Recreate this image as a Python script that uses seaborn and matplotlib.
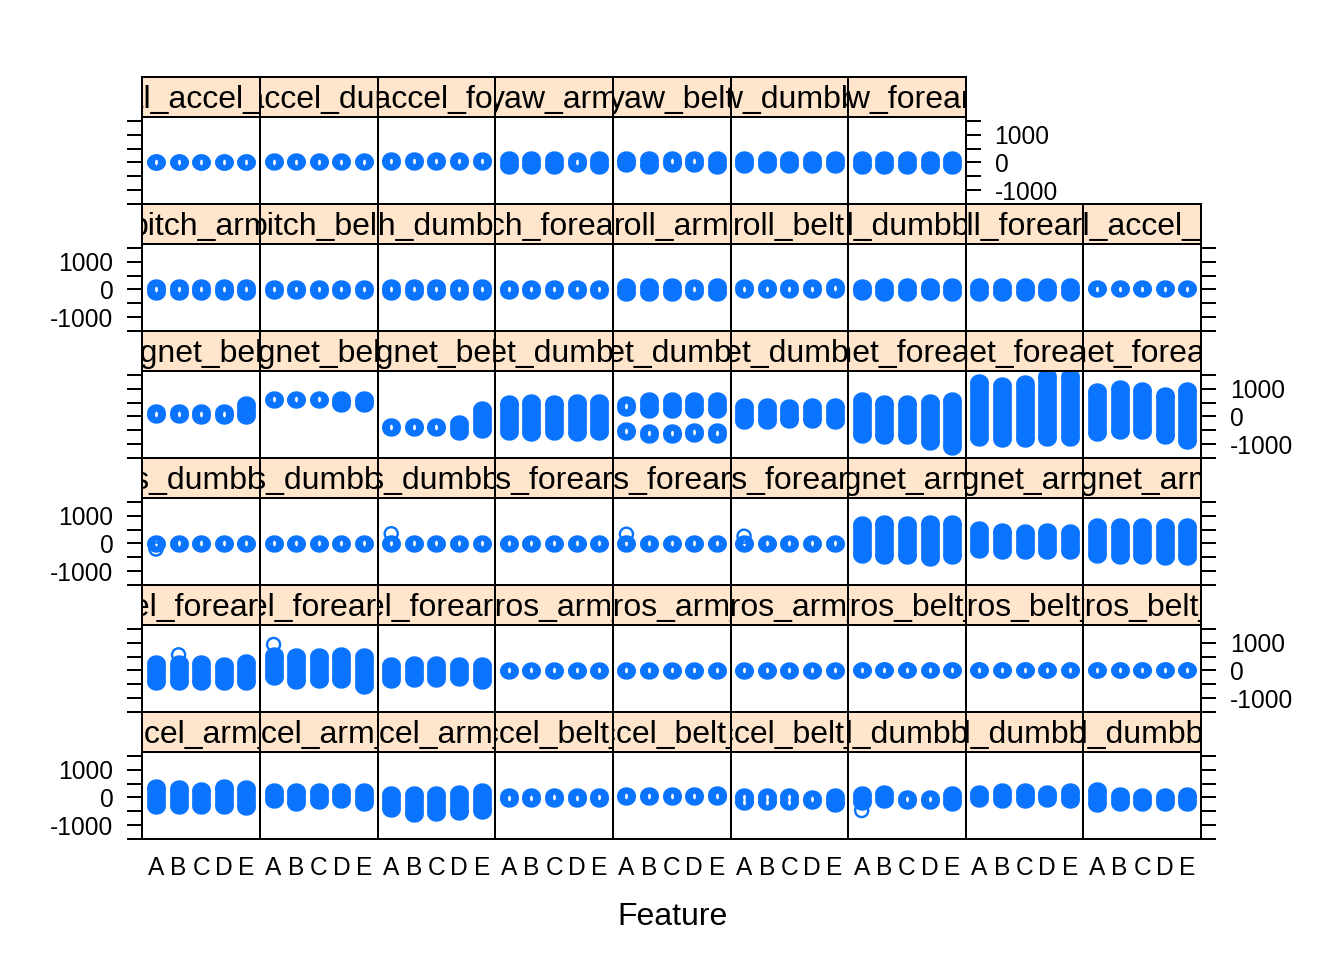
import numpy as np
import pandas as pd
import matplotlib
matplotlib.use("Agg")
import matplotlib.pyplot as plt
import seaborn as sns

# ---------------- data ----------------
classes = ["A", "B", "C", "D", "E"]

belt_features = ["roll_belt", "pitch_belt", "yaw_belt", "total_accel_belt",
                 "gyros_belt_x", "gyros_belt_y", "gyros_belt_z",
                 "accel_belt_x", "accel_belt_y", "accel_belt_z",
                 "magnet_belt_x", "magnet_belt_y", "magnet_belt_z"]
belt_low = [[-20, -20, -20, -20, -10], [-50, -50, -50, -50, -50],
            [-46, -141, -46, -46, -141], [0, 0, 0, 0, 0],
            [-1, -1, -1, -1, -1], [-1, -1, -1, -1, -1], [-1, -1, -1, -1, -1],
            [-50, -60, -50, -60, -60], [10, 10, 10, 10, 0],
            [15, 15, 15, -120, -220],
            [40, 35, 30, 25, 0], [580, 580, 585, 430, 450],
            [-400, -400, -400, -540, -495]]
belt_high = [[85, 85, 85, 85, 120], [60, 60, 60, 60, 60],
             [141, 120, 120, 120, 120], [28, 28, 28, 28, 28],
             [1, 1, 1, 1, 1], [1, 1, 1, 1, 1], [1, 1, 1, 1, 1],
             [40, 50, 50, 50, 60], [90, 90, 90, 90, 110],
             [35, 35, 35, -20, 50],
             [170, 170, 160, 160, 430], [640, 640, 640, 640, 640],
             [-330, -330, -330, -233, 261]]

arm_features = ["roll_arm", "pitch_arm", "yaw_arm", "total_accel_arm",
                "gyros_arm_x", "gyros_arm_y", "gyros_arm_z",
                "accel_arm_x", "accel_arm_y", "accel_arm_z",
                "magnet_arm_x", "magnet_arm_y", "magnet_arm_z"]
arm_low = [[-141, -141, -141, -80, -141], [-80, -80, -80, -80, -80],
           [-141, -141, -141, -46, -141], [0, 0, 0, 0, 0],
           [-6, -6, -6, -6, -6], [-3, -3, -3, -3, -3], [-2, -2, -2, -2, -2],
           [-293, -293, -293, -318, -353], [-106, -198, -141, -106, -198],
           [-410, -576, -553, -530, -495],
           [-420, -460, -460, -530, -460], [-220, -280, -280, -260, -280],
           [-400, -460, -460, -500, -500]]
arm_high = [[141, 141, 120, 80, 141], [80, 80, 80, 80, 80],
            [141, 141, 120, 85, 120], [60, 60, 60, 60, 60],
            [5, 5, 5, 5, 5], [3, 3, 3, 3, 3], [3, 3, 3, 3, 3],
            [367, 339, 279, 367, 339], [226, 247, 247, 226, 247],
            [131, 106, 106, 166, 226],
            [700, 730, 700, 730, 720], [520, 440, 420, 430, 420],
            [640, 610, 610, 640, 610]]

dumbbell_features = ["roll_dumbbell", "pitch_dumbbell", "yaw_dumbbell",
                     "total_accel_dumbbell", "gyros_dumbbell_x",
                     "gyros_dumbbell_y", "gyros_dumbbell_z",
                     "accel_dumbbell_x", "accel_dumbbell_y", "accel_dumbbell_z",
                     "magnet_dumbbell_x", "magnet_dumbbell_y",
                     "magnet_dumbbell_z"]
dumbbell_low = [[-106, -141, -120, -106, -120], [-80, -80, -80, -80, -80],
                [-106, -106, -106, -106, -106], [0, 0, 0, 0, 0],
                [-3, -3, -3, -3, -3], [-3, -3, -3, -3, -3], [-3, -3, -3, -3, -3],
                [-163, -106, -120, -120, -187], [-46, -106, -106, -46, -106],
                [-223, -187, -187, -187, -187],
                [-541, -576, -541, -588, -541], [307, 247, 247, 247, 247],
                [-163, -163, -130, -130, -150]]
dumbbell_high = [[85, 120, 110, 120, 110], [80, 80, 80, 80, 80],
                 [106, 106, 106, 106, 106], [50, 50, 50, 50, 50],
                 [3, 3, 3, 3, 3], [3, 3, 3, 3, 3], [3, 3, 3, 3, 3],
                 [120, 166, -20, -20, 141], [166, 237, 237, 166, 237],
                 [261, 85, 50, 50, 85],
                 [495, 519, 495, 519, 519], [438, 590, 590, 590, 590],
                 [378, 378, 340, 378, 378]]

forearm_features = ["roll_forearm", "pitch_forearm", "yaw_forearm",
                    "total_accel_forearm", "gyros_forearm_x",
                    "gyros_forearm_y", "gyros_forearm_z",
                    "accel_forearm_x", "accel_forearm_y", "accel_forearm_z",
                    "magnet_forearm_x", "magnet_forearm_y", "magnet_forearm_z"]
forearm_low = [[-141, -141, -141, -141, -141], [-40, -40, -40, -40, -40],
               [-141, -141, -141, -141, -141], [0, 0, 0, 0, 0],
               [-3, -3, -3, -3, -3], [-3, -3, -3, -3, -3], [-3, -3, -3, -3, -3],
               [-420, -430, -420, -420, -420], [-230, -380, -350, -350, -540],
               [-340, -300, -300, -280, -380],
               [-647, -707, -710, -919, -1095], [-763, -799, -799, -763, -763],
               [-587, -530, -530, -707, -883]]
forearm_high = [[141, 141, 141, 141, 141], [40, 40, 40, 40, 40],
                [141, 141, 141, 141, 141], [100, 100, 100, 100, 100],
                [3, 3, 3, 3, 3], [3, 3, 3, 3, 3], [3, 3, 3, 3, 3],
                [260, 250, 250, 200, 290], [550, 520, 520, 560, 520],
                [200, 220, 220, 180, 180],
                [601, 484, 484, 519, 601], [1251, 1131, 1191, 1450, 1450],
                [898, 1014, 951, 756, 951]]

# second value clusters (bimodal features)
extra_feature = ["accel_belt_z", "accel_belt_z", "accel_belt_z",
                 "magnet_dumbbell_y", "magnet_dumbbell_y", "magnet_dumbbell_y",
                 "magnet_dumbbell_y", "magnet_dumbbell_y"]
extra_class = ["A", "B", "C", "A", "B", "C", "D", "E"]
extra_low = [-165, -165, -165, -540, -650, -650, -620, -650]
extra_high = [-145, -145, -145, -480, -540, -540, -520, -520]

# isolated points
out_feature = ["gyros_dumbbell_x", "gyros_dumbbell_z", "gyros_forearm_y",
               "gyros_forearm_z", "accel_forearm_x", "accel_forearm_y",
               "accel_dumbbell_x"]
out_class = ["A", "A", "A", "A", "B", "A", "A"]
out_value = [-200, 350, 330, 260, 560, 930, -470]

# ---------------- tidy tables ----------------
rows = []
for names, lows, highs in [(belt_features, belt_low, belt_high),
                           (arm_features, arm_low, arm_high),
                           (dumbbell_features, dumbbell_low, dumbbell_high),
                           (forearm_features, forearm_low, forearm_high)]:
    for f, lo_row, hi_row in zip(names, lows, highs):
        for c, lo, hi in zip(classes, lo_row, hi_row):
            rows.append((f, c, lo, hi))
for f, c, lo, hi in zip(extra_feature, extra_class, extra_low, extra_high):
    rows.append((f, c, lo, hi))
seg = pd.DataFrame(rows, columns=["feature", "classe", "low", "high"])
cls_pos = {c: i + 1 for i, c in enumerate(classes)}
seg["pos"] = seg["classe"].map(cls_pos)
seg["mid"] = (seg["low"] + seg["high"]) / 2
outl = pd.DataFrame({"feature": out_feature, "classe": out_class,
                     "value": out_value})
outl["pos"] = outl["classe"].map(cls_pos)

features = sorted(belt_features + arm_features + dumbbell_features +
                  forearm_features)

# ---------------- style ----------------
sns.set_theme(style="white")
plt.rcParams["font.family"] = ["Liberation Sans", "DejaVu Sans"]
plt.rcParams["path.simplify"] = False
blue = "#0a74ff"
strip_bg = "#ffe5cc"
lw_frame = 0.75

W, H = 1344, 960
fig = plt.figure(figsize=(7, 5), dpi=192)
left0, colw = 142.4, 117.62
bot0, rowh, panh, striph = 839.3, 127.0, 87.6, 39.4
ncol = 9

theta = np.linspace(0, 2 * np.pi, 40)
end_marker = list(zip(np.cos(theta), 0.88 * np.sin(theta)))
hole_marker = list(zip(0.5 * np.cos(theta), np.sin(theta)))
cap_pt = 7.0  # capsule width in points

yt = [-1500, -1000, -500, 0, 500, 1000, 1500]
ytl = ["" if v % 1000 else str(v) for v in yt]

nfeat = len(features)
for i, f in enumerate(features):
    r, c = divmod(i, ncol)
    nrow_items = min(ncol, nfeat - r * ncol)
    x0 = (left0 + c * colw) / W
    yb = (H - (bot0 - r * rowh)) / H
    ax = fig.add_axes([x0, yb, colw / W, panh / H])
    sax = fig.add_axes([x0, yb + panh / H, colw / W, striph / H])

    sub = seg[seg["feature"] == f]
    ax.vlines(sub["pos"], sub["low"], sub["high"], colors=blue,
              linewidth=cap_pt, capstyle="butt", zorder=2)
    ends = pd.concat([sub[["pos"]].assign(y=sub["low"]),
                      sub[["pos"]].assign(y=sub["high"])])
    ax.scatter(ends["pos"], ends["y"], marker=end_marker, s=cap_pt ** 2,
               color=blue, linewidths=0, zorder=2)
    small = sub[(sub["high"] - sub["low"]) <= 170]
    if len(small):
        ax.scatter(small["pos"], small["mid"], marker=hole_marker, s=4.5,
                   color="white", linewidths=0, zorder=3)
    so = outl[outl["feature"] == f]
    if len(so):
        sns.scatterplot(data=so, x="pos", y="value", ax=ax, marker="o",
                        s=24, facecolor="none", edgecolor=blue,
                        linewidth=0.9, zorder=4, legend=False)
    ax.set_xlim(0.4, 5.6)
    ax.set_ylim(-1450, 1640)
    ax.set_xlabel("")
    ax.set_ylabel("")
    ax.set_yticks(yt)
    ax.set_yticklabels(ytl)
    ax.set_xticks(range(1, 6))
    ax.set_xticklabels(classes if r == 0 else [""] * 5)
    first = c == 0
    last = c == nrow_items - 1
    lab_left = first and r % 2 == 0
    lab_right = last and r % 2 == 1
    ax.tick_params(axis="y", direction="out", length=5.6, width=lw_frame,
                   color="black", left=first, right=last,
                   labelleft=lab_left, labelright=lab_right,
                   pad=5.2, labelsize=9.2, labelcolor="black")
    ax.tick_params(axis="x", length=0, bottom=False, top=False,
                   labelbottom=(r == 0), pad=6.4, labelsize=9.2,
                   labelcolor="black")
    for sp in ax.spines.values():
        sp.set_visible(True)
        sp.set_color("black")
        sp.set_linewidth(lw_frame)

    sax.set_facecolor(strip_bg)
    sax.set_xticks([])
    sax.set_yticks([])
    sax.set_xlim(0, 1)
    sax.set_ylim(0, 1)
    for sp in sax.spines.values():
        sp.set_visible(True)
        sp.set_color("black")
        sp.set_linewidth(lw_frame)
    sax.text(0.5, 0.42, f, ha="center", va="center", fontsize=12,
             color="black", clip_on=True, transform=sax.transAxes)

fig.text(672 / W, 1 - 917 / H, "Feature", ha="center", va="center",
         fontsize=12, color="black")

fig.savefig("out.png", dpi=192, facecolor="white")
